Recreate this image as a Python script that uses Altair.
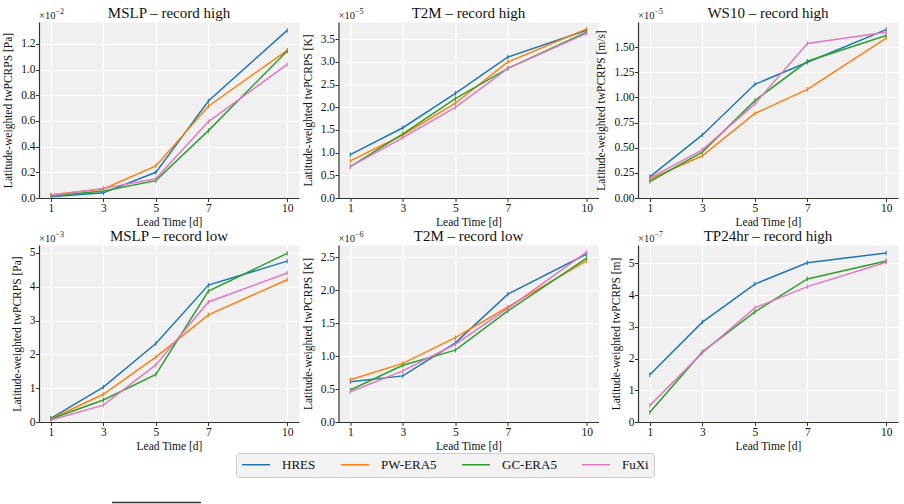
import altair as alt
import pandas as pd

# Forecast lead times (days) and the models compared
LEAD_TIMES = [1, 3, 5, 7, 10]
MODELS = ["HRES", "PW-ERA5", "GC-ERA5", "FuXi"]
COLORS = ["#1f77b4", "#ff7f0e", "#2ca02c", "#e377c2"]

# twPCRPS scores, expressed in units of 10^exponent for each panel
MSLP_HIGH = {
    "HRES": [0.010, 0.040, 0.200, 0.755, 1.306],
    "PW-ERA5": [0.025, 0.070, 0.250, 0.715, 1.150],
    "GC-ERA5": [0.015, 0.055, 0.135, 0.525, 1.145],
    "FuXi": [0.020, 0.075, 0.150, 0.595, 1.040],
}
T2M_HIGH = {
    "HRES": [0.955, 1.550, 2.310, 3.110, 3.700],
    "PW-ERA5": [0.820, 1.390, 2.090, 3.000, 3.730],
    "GC-ERA5": [0.690, 1.415, 2.190, 2.860, 3.660],
    "FuXi": [0.690, 1.330, 2.000, 2.860, 3.630],
}
WS10_HIGH = {
    "HRES": [0.210, 0.627, 1.130, 1.350, 1.674],
    "PW-ERA5": [0.187, 0.420, 0.840, 1.080, 1.590],
    "GC-ERA5": [0.164, 0.456, 0.968, 1.359, 1.615],
    "FuXi": [0.197, 0.479, 0.935, 1.536, 1.648],
}
MSLP_LOW = {
    "HRES": [0.11, 1.03, 2.32, 4.05, 4.76],
    "PW-ERA5": [0.09, 0.82, 1.92, 3.17, 4.21],
    "GC-ERA5": [0.09, 0.65, 1.41, 3.87, 4.99],
    "FuXi": [0.06, 0.50, 1.69, 3.55, 4.41],
}
T2M_LOW = {
    "HRES": [0.610, 0.700, 1.200, 1.940, 2.550],
    "PW-ERA5": [0.640, 0.890, 1.280, 1.745, 2.450],
    "GC-ERA5": [0.486, 0.860, 1.090, 1.685, 2.485],
    "FuXi": [0.460, 0.775, 1.180, 1.725, 2.580],
}
TP24_HIGH = {
    "HRES": [1.49, 3.15, 4.35, 5.02, 5.33],
    "GC-ERA5": [0.305, 2.21, 3.47, 4.51, 5.08],
    "FuXi": [0.525, 2.18, 3.60, 4.27, 5.04],
}

# Panel definitions: title, unit, exponent, scores, y tick values, tick format
PANELS = [
    ("MSLP – record high", "Pa", -2, MSLP_HIGH, [0, 0.2, 0.4, 0.6, 0.8, 1.0, 1.2], ".1f"),
    ("T2M – record high", "K", -5, T2M_HIGH, [0, 0.5, 1.0, 1.5, 2.0, 2.5, 3.0, 3.5], ".1f"),
    ("WS10 – record high", "m/s", -5, WS10_HIGH, [0, 0.25, 0.5, 0.75, 1.0, 1.25, 1.5], ".2f"),
    ("MSLP – record low", "Pa", -3, MSLP_LOW, [0, 1, 2, 3, 4, 5], "d"),
    ("T2M – record low", "K", -6, T2M_LOW, [0, 0.5, 1.0, 1.5, 2.0, 2.5], ".1f"),
    ("TP24hr – record high", "m", -7, TP24_HIGH, [0, 1, 2, 3, 4, 5], "d"),
]

SERIF = "Liberation Serif"
PANEL_W = 260
HEIGHTS = [176, 177]

AXIS_STYLE = dict(
    labelFont=SERIF,
    labelFontSize=11.5,
    labelColor="#111111",
    titleFont=SERIF,
    titleFontSize=11.5,
    titleFontWeight="normal",
    titleColor="#111111",
    domainColor="#333333",
    domainWidth=1.2,
    tickColor="#333333",
    tickSize=3.5,
    tickWidth=1,
    gridColor="white",
    gridWidth=1.2,
)


def panel(spec, width, height, footer_rule=False):
    title, unit, exponent, scores, ticks, fmt = spec
    rows = [
        {"lead": lt, "score": v, "model": m}
        for m in MODELS if m in scores
        for lt, v in zip(LEAD_TIMES, scores[m])
    ]
    df = pd.DataFrame(rows)
    lo, hi = df["score"].min(), df["score"].max()
    top = hi + 0.05 * (hi - lo)

    x = alt.X(
        "lead:Q",
        scale=alt.Scale(domain=[0.55, 10.45], nice=False, zero=False),
        axis=alt.Axis(values=LEAD_TIMES, format="d", title="Lead Time [d]",
                      labelPadding=1, titlePadding=2, **AXIS_STYLE),
    )
    y = alt.Y(
        "score:Q",
        scale=alt.Scale(domain=[0, top], nice=False),
        axis=alt.Axis(values=ticks, format=fmt,
                      title=f"Latitude-weighted twPCRPS [{unit}]",
                      labelPadding=0.5, titlePadding=7, **AXIS_STYLE),
    )
    color = alt.Color(
        "model:N",
        scale=alt.Scale(domain=MODELS, range=COLORS),
        legend=alt.Legend(title=None),
    )

    base = alt.Chart(df)
    lines = base.mark_line(strokeWidth=1.5).encode(x=x, y=y, color=color)
    marks = base.mark_point(
        shape="M0,-1L0,1", size=22, filled=False, strokeWidth=1, opacity=1
    ).encode(x=x, y=y, color=color)

    label_df = pd.DataFrame({"title": [title], "mult": ["×10"], "exp": [f"−{abs(exponent)}"]})
    label_base = alt.Chart(label_df)
    heading = label_base.mark_text(
        font=SERIF, fontSize=15, align="center", baseline="alphabetic", color="#111111"
    ).encode(text="title:N", x=alt.value(width / 2), y=alt.value(-4))
    mult = label_base.mark_text(
        font=SERIF, fontSize=10.5, align="left", baseline="alphabetic", color="#222222"
    ).encode(text="mult:N", x=alt.value(0), y=alt.value(-3))
    expo = label_base.mark_text(
        font=SERIF, fontSize=8, align="left", baseline="alphabetic", color="#222222"
    ).encode(text="exp:N", x=alt.value(16.5), y=alt.value(-8))

    layers = [lines, marks, heading, mult, expo]
    if footer_rule:
        layers.append(
            label_base.mark_rule(color="#333333", strokeWidth=1.5).encode(
                x=alt.value(73), x2=alt.value(162), y=alt.value(257.5)
            )
        )
    return alt.layer(*layers).properties(width=width, height=height)


panels = [
    panel(PANELS[i], PANEL_W, HEIGHTS[i // 3], footer_rule=(i == 3))
    for i in range(6)
]

chart = (
    alt.concat(*panels, columns=3, spacing={"row": 47, "column": 39.5}, bounds="flush")
    .resolve_scale(x="independent", y="independent", color="shared")
    .properties(padding={"left": 2, "top": 5, "right": 2, "bottom": 0})
    .configure_view(fill="#f0f0f0", stroke="transparent")
    .configure_axis(**AXIS_STYLE)
    .configure_legend(
        orient="none",
        legendX=197,
        legendY=431,
        direction="horizontal",
        symbolType="stroke",
        symbolSize=784,
        symbolStrokeWidth=1.5,
        clipHeight=13,
        labelFont=SERIF,
        labelFontSize=13,
        labelColor="#111111",
        labelOffset=11,
        columnPadding=24,
        padding=5,
        fillColor="#f2f2f2",
        strokeColor="#cccccc",
        cornerRadius=3,
    )
)

chart.save("out.html", embed_options={"renderer": "svg", "actions": False})
